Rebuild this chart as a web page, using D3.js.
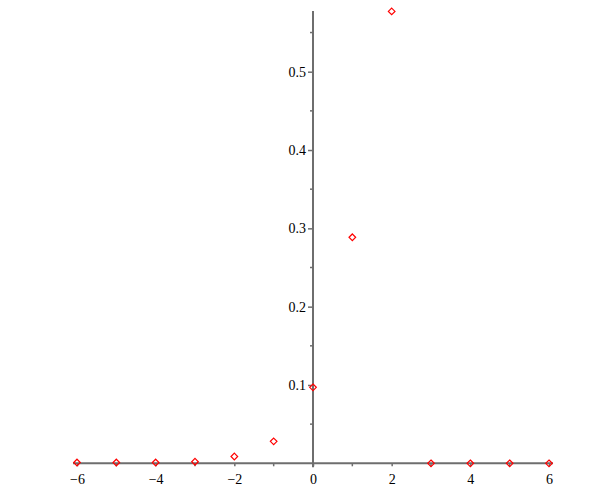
<!DOCTYPE html>
<html>
<head>
<meta charset="utf-8">
<script src="https://cdn.jsdelivr.net/npm/d3@7"></script>
<style>
  body { margin: 0; background: #fff; }
  text { font-family: "Liberation Serif", "Times New Roman", serif; font-size: 14px; fill: #000; }
</style>
</head>
<body>
<svg width="602" height="498"></svg>
<script>
// data
var xs = [-6, -5, -4, -3, -2, -1, 0, 1, 2, 3, 4, 5, 6];
var ys = [0.001, 0.001, 0.001, 0.002, 0.0087, 0.028, 0.097, 0.2886, 0.577, 0, 0, 0, 0];
var xTicks = [-6, -4, -2, 0, 2, 4, 6];
var xMinor = [-5, -3, -1, 1, 3, 5];
var yTicks = [0.1, 0.2, 0.3, 0.4, 0.5];
var yMinor = [0.05, 0.15, 0.25, 0.35, 0.45, 0.55];

var svg = d3.select("svg");

var x = d3.scaleLinear().domain([-6, 6]).range([77, 549]);
var y = d3.scaleLinear().domain([0, 0.5]).range([463.3, 71.7]);
var yTop = 11;

var axisColor = "#6e6e6e";
var fmt = function(d) { return d < 0 ? "\u2212" + Math.abs(d) : String(d); };

// x axis
var xg = svg.append("g").attr("transform", "translate(0," + y(0) + ")");
xg.call(d3.axisBottom(x).tickValues(xTicks).tickSize(3).tickPadding(5).tickFormat(fmt));
xg.selectAll(".tick line").attr("stroke", axisColor).attr("stroke-width", 1.5);
xg.select(".domain").remove();
xg.append("line")
  .attr("x1", x(-6) - 4).attr("x2", x(6) + 4)
  .attr("stroke", axisColor).attr("stroke-width", 2);
xg.selectAll(".minor").data(xMinor).enter().append("line")
  .attr("x1", function(d) { return x(d); }).attr("x2", function(d) { return x(d); })
  .attr("y1", 0).attr("y2", 3)
  .attr("stroke", axisColor).attr("stroke-width", 1.5);
xg.selectAll("text").style("font-family", null).style("font-size", null).attr("dy", "0.9em");

// y axis
var yg = svg.append("g").attr("transform", "translate(" + x(0) + ",0)");
yg.call(d3.axisLeft(y).tickValues(yTicks).tickSize(5).tickPadding(2).tickFormat(d3.format(".1f")));
yg.selectAll(".tick line").attr("stroke", axisColor).attr("stroke-width", 1.5);
yg.select(".domain").remove();
yg.append("line")
  .attr("y1", y(0) + 4).attr("y2", yTop)
  .attr("stroke", axisColor).attr("stroke-width", 2);
yg.selectAll(".minor").data(yMinor).enter().append("line")
  .attr("y1", function(d) { return y(d); }).attr("y2", function(d) { return y(d); })
  .attr("x1", -3).attr("x2", 0)
  .attr("stroke", axisColor).attr("stroke-width", 1.5);
yg.selectAll("text").style("font-family", null).style("font-size", null);

// points
svg.append("g").selectAll("path")
  .data(xs.map(function(d, i) { return [d, ys[i]]; }))
  .enter().append("path")
  .attr("d", d3.symbol().type(d3.symbolDiamond2).size(28))
  .attr("transform", function(d) { return "translate(" + x(d[0]) + "," + y(d[1]) + ")"; })
  .attr("fill", "none")
  .attr("stroke", "#ff0000")
  .attr("stroke-width", 1.2);
</script>
</body>
</html>
